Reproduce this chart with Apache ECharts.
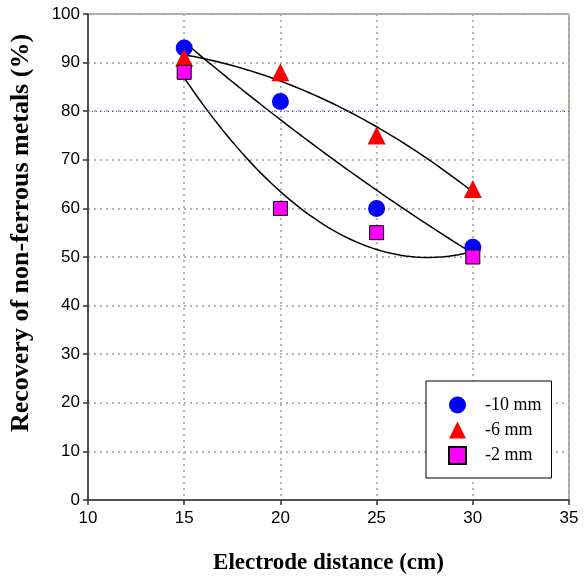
<!DOCTYPE html>
<html>
<head>
<meta charset="utf-8">
<script src="https://cdn.jsdelivr.net/npm/echarts@6/dist/echarts.min.js"></script>
<style>html,body{margin:0;padding:0;background:#fff;}#c{width:585px;height:580px;}</style>
</head>
<body>
<div id="c"></div>
<script>
var distances = [15, 20, 25, 30];
var rec10 = [93, 82, 60, 52];
var rec6 = [91, 88, 75, 64];
var rec2 = [88, 60, 55, 50];
var seriesNames = ['-10 mm', '-6 mm', '-2 mm'];
var xTicks = [10, 15, 20, 25, 30, 35];
var yTicks = [0, 10, 20, 30, 40, 50, 60, 70, 80, 90, 100];

// quadratic least-squares trend line computed from the data
function quadFit(xs, ys) {
  var n = xs.length, S = [0,0,0,0,0], T = [0,0,0];
  for (var i = 0; i < n; i++) {
    var p = 1;
    for (var k = 0; k < 5; k++) { S[k] += p; if (k < 3) T[k] += p * ys[i]; p *= xs[i]; }
  }
  var A = [[S[0],S[1],S[2],T[0]],[S[1],S[2],S[3],T[1]],[S[2],S[3],S[4],T[2]]];
  for (var c = 0; c < 3; c++) {
    for (var r = c + 1; r < 3; r++) {
      var f = A[r][c] / A[c][c];
      for (var j = c; j < 4; j++) A[r][j] -= f * A[c][j];
    }
  }
  var co = [0,0,0];
  for (var r2 = 2; r2 >= 0; r2--) {
    var s = A[r2][3];
    for (var j2 = r2 + 1; j2 < 3; j2++) s -= A[r2][j2] * co[j2];
    co[r2] = s / A[r2][r2];
  }
  return co;
}
function trend(xs, ys) {
  var co = quadFit(xs, ys), out = [];
  var x0 = xs[0], x1 = xs[xs.length - 1];
  for (var i = 0; i <= 60; i++) {
    var x = x0 + (x1 - x0) * i / 60;
    out.push([x, co[0] + co[1] * x + co[2] * x * x]);
  }
  return out;
}
function pairs(xs, ys) { return xs.map(function (x, i) { return [x, ys[i]]; }); }

var chart = echarts.init(document.getElementById('c'), null, {renderer: 'canvas'});
var lineStyleT = {color: '#000', width: 1.5};
chart.setOption({
  animation: false,
  backgroundColor: '#fff',
  grid: {left: 88, right: 16, top: 14, bottom: 78, show: true, borderColor: '#555', borderWidth: 1, backgroundColor: 'transparent'},
  xAxis: {
    type: 'value', min: xTicks[0], max: xTicks[xTicks.length - 1], interval: 5,
    name: 'Electrode distance (cm)', nameLocation: 'middle', nameGap: 52,
    nameTextStyle: {fontFamily: 'Liberation Serif', fontWeight: 'bold', fontSize: 23, color: '#000'},
    axisLine: {show: true, onZero: false, lineStyle: {color: '#333', width: 1.5}},
    axisTick: {show: true, inside: false, length: 5, lineStyle: {color: '#333', width: 1.5}},
    axisLabel: {margin: 10, fontFamily: 'Liberation Sans', fontSize: 17, color: '#000'},
    splitLine: {show: true, lineStyle: {color: '#b5b5b5', width: 2, type: [2, 4]}}
  },
  yAxis: {
    type: 'value', min: yTicks[0], max: yTicks[yTicks.length - 1], interval: 10,
    name: 'Recovery of non-ferrous metals (%)', nameLocation: 'middle', nameGap: 54,
    nameTextStyle: {fontFamily: 'Liberation Serif', fontWeight: 'bold', fontSize: 26, color: '#000', padding: [0, 0, 0, 48]},
    axisLine: {show: true, onZero: false, lineStyle: {color: '#333', width: 1.5}},
    axisTick: {show: true, inside: false, length: 5, lineStyle: {color: '#333', width: 1.5}},
    axisLabel: {margin: 8, fontFamily: 'Liberation Sans', fontSize: 17, color: '#000'},
    splitLine: {show: true, lineStyle: {color: '#b5b5b5', width: 2, type: [2, 4]}}
  },
  legend: {
    data: seriesNames, orient: 'vertical', left: 426, top: 381,
    backgroundColor: '#fff', borderColor: '#000', borderWidth: 1,
    padding: [15, 10, 13, 22], itemGap: 7, itemWidth: 17, itemHeight: 17,
    textStyle: {fontFamily: 'Liberation Serif', fontSize: 18, color: '#000', padding: [0, 0, 0, 14]}
  },
  series: [
    {name: 'trend10', type: 'line', data: trend(distances, rec10), showSymbol: false, symbol: 'none', lineStyle: lineStyleT, silent: true, z: 3,
     markLine: {silent: true, symbol: 'none', label: {show: false}, data: [{yAxis: 80}], lineStyle: {color: '#6040c0', width: 1, type: [1, 3]}}},
    {name: 'trend6', type: 'line', data: trend(distances, rec6), showSymbol: false, symbol: 'none', lineStyle: lineStyleT, silent: true, z: 3},
    {name: 'trend2', type: 'line', data: trend(distances, rec2), showSymbol: false, symbol: 'none', lineStyle: lineStyleT, silent: true, z: 3},
    {name: seriesNames[0], type: 'scatter', data: pairs(distances, rec10), symbol: 'circle', symbolSize: 17, itemStyle: {color: '#0000ff', opacity: 1}, z: 4},
    {name: seriesNames[1], type: 'scatter', data: pairs(distances, rec6), symbol: 'triangle', symbolSize: 18, itemStyle: {color: '#ff0000', opacity: 1}, z: 4},
    {name: seriesNames[2], type: 'scatter', data: pairs(distances, rec2), symbol: 'rect', symbolSize: 14, itemStyle: {color: '#ff00ff', borderColor: '#000', borderWidth: 1, opacity: 1}, z: 4}
  ]
});
</script>
</body>
</html>
